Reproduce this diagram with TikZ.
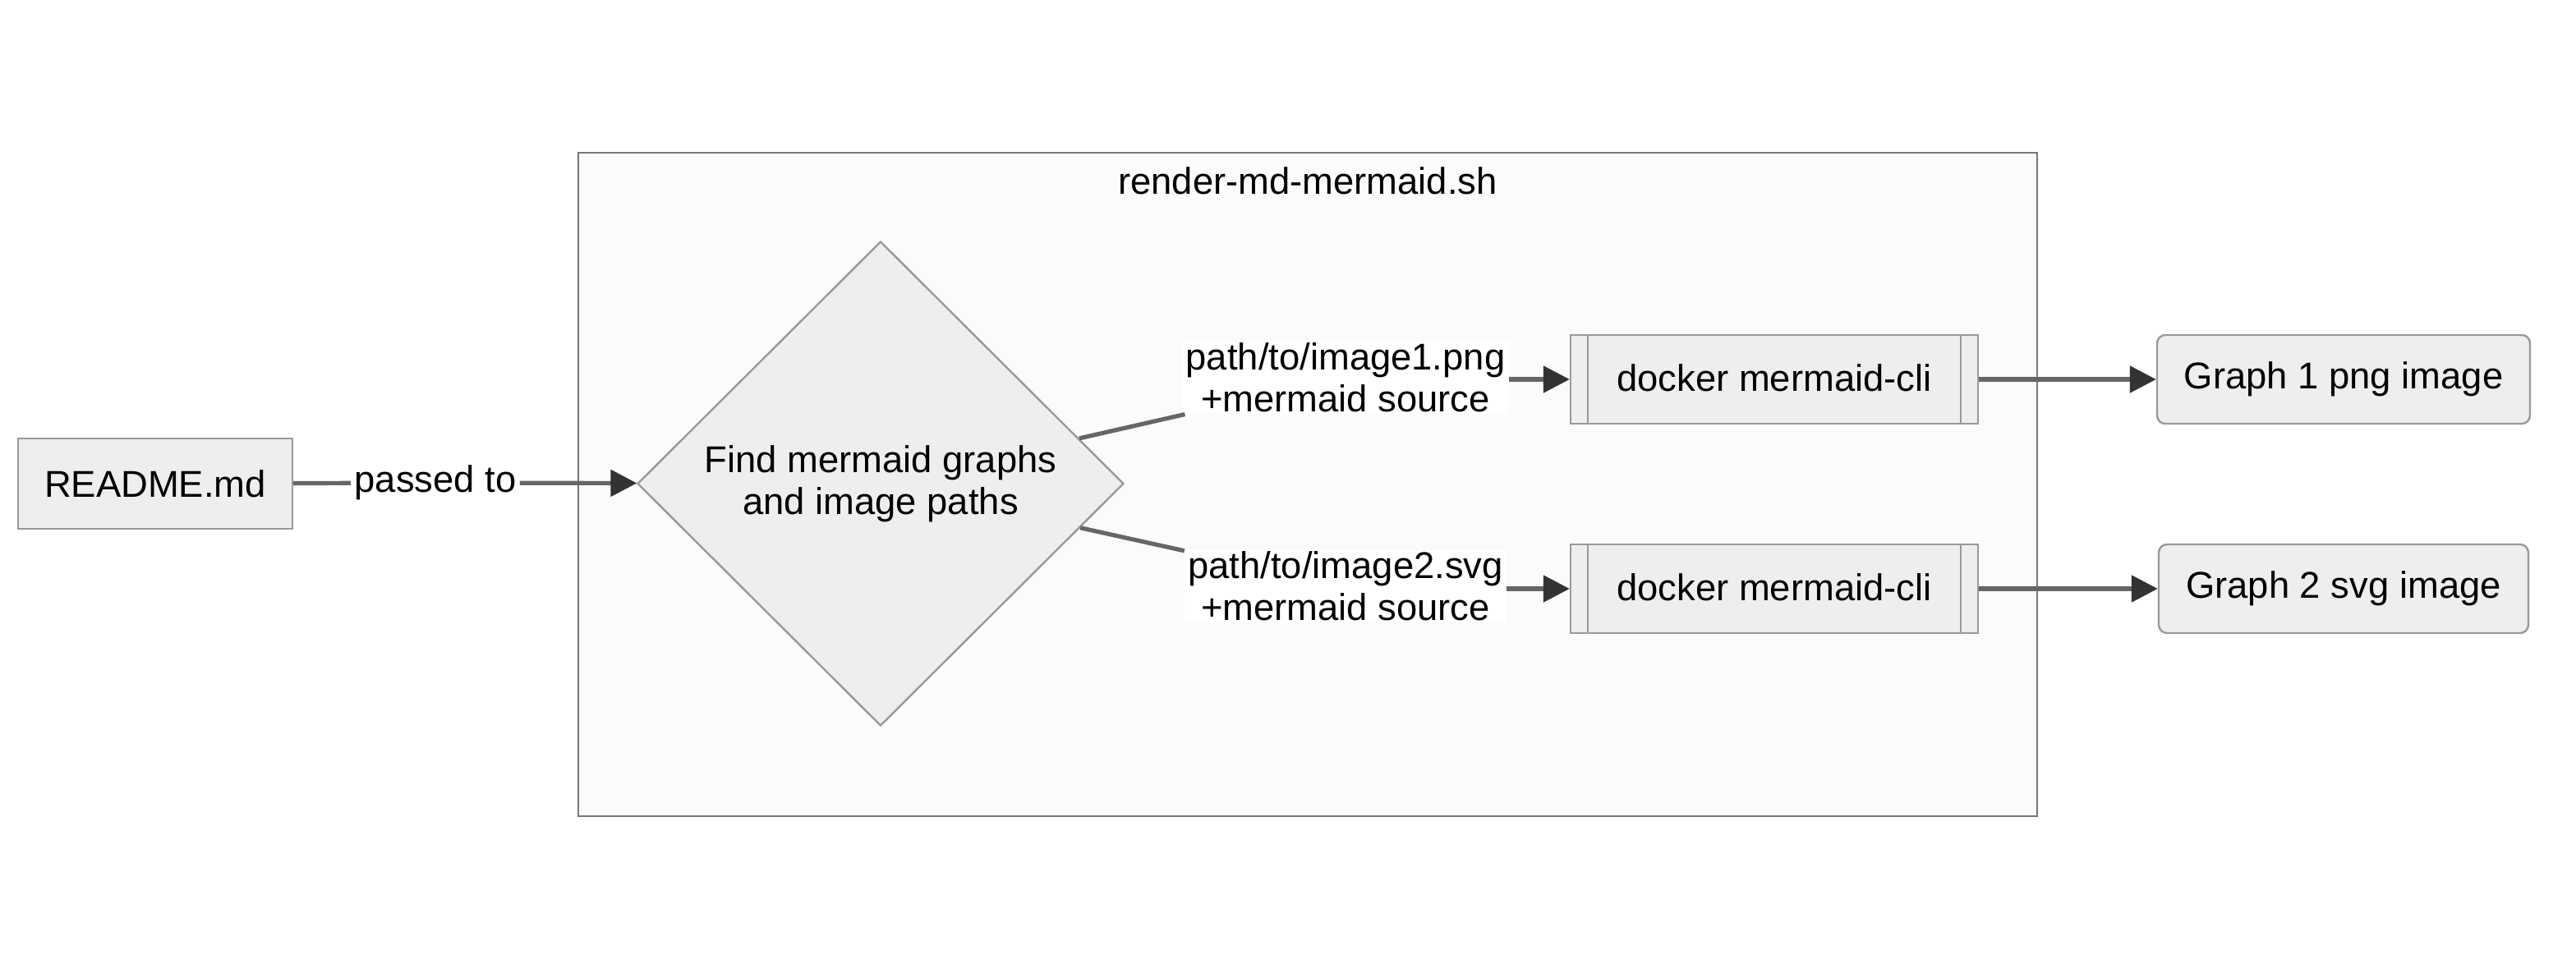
\documentclass[tikz,border=0pt]{standalone}
\usepackage{fontspec}
\setmainfont{Liberation Sans}
\usetikzlibrary{shapes.geometric,arrows.meta}
\definecolor{nodefill}{HTML}{EEEEEE}
\definecolor{nodeborder}{HTML}{999999}
\definecolor{clusterfill}{HTML}{FBFBFB}
\definecolor{clusterborder}{HTML}{777777}
\definecolor{edgecol}{HTML}{666666}
\definecolor{tipcol}{HTML}{333333}
\tikzset{
  every node/.style={font=\fontsize{22.7}{25.5}\selectfont, text=black},
  boxnode/.style={draw=nodeborder, fill=nodefill, line width=1.2pt, inner sep=0pt, anchor=center},
  subnode/.style={boxnode, minimum width=248pt, minimum height=54pt},
  roundnode/.style={boxnode, rounded corners=5pt, minimum height=54pt},
  decision/.style={diamond, draw=nodeborder, fill=nodefill, line width=1.2pt, inner sep=0pt, minimum width=296pt, minimum height=295pt, align=center},
  edgelabel/.style={fill=white, inner xsep=2pt, inner ysep=1pt, align=center},
  edge/.style={draw=edgecol, line width=2.6pt, -{Triangle[length=16pt,width=16pt,color=tipcol]}},
  plainedge/.style={draw=edgecol, line width=2.6pt},
}
\begin{document}
\begin{tikzpicture}[x=1pt,y=-1pt]
\useasboundingbox (0,0) rectangle (1568,592);
% cluster
\node[draw=clusterborder, fill=clusterfill, line width=1.2pt, minimum width=888pt, minimum height=404pt, inner sep=0pt] (cluster) at (796,295) {};
\node (title) at (796,110) {render-md-mermaid.sh};
% nodes
\node[boxnode, minimum width=167pt, minimum height=55pt] (readme) at (94.5,294.5) {README.md};
\node[decision] (dia) at (536,294.5) {Find mermaid graphs\\and image paths};
\node[subnode] (doc1) at (1080,231) {\raisebox{1.5pt}{docker mermaid-cli}};
\node[subnode] (doc2) at (1080,358.5) {\raisebox{1.5pt}{docker mermaid-cli}};
\draw[draw=nodeborder, line width=1.2pt] ([xshift=11pt]doc1.north west) -- ([xshift=11pt]doc1.south west)
  ([xshift=-11pt]doc1.north east) -- ([xshift=-11pt]doc1.south east);
\draw[draw=nodeborder, line width=1.2pt] ([xshift=11pt]doc2.north west) -- ([xshift=11pt]doc2.south west)
  ([xshift=-11pt]doc2.north east) -- ([xshift=-11pt]doc2.south east);
\node[roundnode, minimum width=227pt] (g1) at (1426.5,231) {Graph 1 png image};
\node[roundnode, minimum width=225pt] (g2) at (1426.5,358.5) {Graph 2 svg image};
% edge labels
\node[edgelabel] (lbl0) at (265,294) {passed to};
\node[edgelabel] (lbl1) at (819,230) {path/to/image1.png\\+mermaid source};
\node[edgelabel] (lbl2) at (819,357) {path/to/image2.svg\\+mermaid source};
% edges
\draw[plainedge] (readme) -- (lbl0);
\draw[edge] (lbl0) -- (dia);
\draw[plainedge] (dia) -- (lbl1);
\draw[edge] (lbl1.east |- doc1) -- (doc1);
\draw[plainedge] (dia) -- (lbl2);
\draw[edge] (lbl2.east |- doc2) -- (doc2);
\draw[edge] (doc1) -- (g1);
\draw[edge] (doc2) -- (g2);
\end{tikzpicture}
\end{document}
